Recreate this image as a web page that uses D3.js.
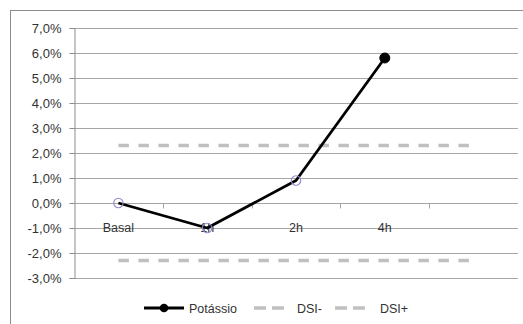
<!DOCTYPE html>
<html>
<head>
<meta charset="utf-8">
<script src="https://cdn.jsdelivr.net/npm/d3@7"></script>
<style>
  html, body { margin: 0; padding: 0; background: #fff; }
  svg { display: block; }
  text { font-family: "Liberation Sans", Arial, sans-serif; fill: #333; }
</style>
</head>
<body>
<svg id="chart" width="523" height="324"></svg>
<script>
// Time points (the last slot is left blank on the axis)
const categories = ["Basal", "1h", "2h", "4h", ""];
// Potássio variation per time point
const potassio = [0.0, -0.010, 0.009, 0.058];
// Significance band limits
const dsiMinus = [-0.023, -0.023, -0.023, -0.023, -0.023];
const dsiPlus  = [0.023, 0.023, 0.023, 0.023, 0.023];
// Y axis ticks
const yTicks = [-0.03, -0.02, -0.01, 0, 0.01, 0.02, 0.03, 0.04, 0.05, 0.06, 0.07];
// Series names for the legend
const seriesNames = ["Potássio", "DSI-", "DSI+"];
// The point drawn with a solid marker
const solidPoint = "4h";

const svg = d3.select("#chart");
const plot = { left: 74, right: 518, top: 28, bottom: 278 };

const x = d3.scaleBand().domain(categories).range([plot.left, plot.right]).padding(0);
const y = d3.scaleLinear().domain([-0.03, 0.07]).range([plot.bottom, plot.top]);
const cx = c => x(c) + x.bandwidth() / 2;
const fmt = v => d3.format(".1f")(v * 100).replace(".", ",").replace("−", "-") + "%";

// Outer chart frame (runs past the right and bottom edges)
svg.append("rect")
  .attr("x", 10.5).attr("y", 10.5)
  .attr("width", 540).attr("height", 340)
  .attr("fill", "none").attr("stroke", "#8c8c8c").attr("stroke-width", 1);

// Horizontal gridlines
svg.append("g")
  .selectAll("line").data(yTicks).join("line")
  .attr("x1", plot.left).attr("x2", plot.right)
  .attr("y1", d => Math.round(y(d)) + 0.5).attr("y2", d => Math.round(y(d)) + 0.5)
  .attr("stroke", "#a6a6a6").attr("stroke-width", 1);

// Y axis with outside ticks
const yAxis = svg.append("g")
  .attr("transform", `translate(${plot.left + 0.5},0)`)
  .call(d3.axisLeft(y).tickValues(yTicks).tickSize(5).tickPadding(8).tickFormat(fmt));
yAxis.select(".domain").attr("stroke", "#8c8c8c");
yAxis.selectAll(".tick line").attr("stroke", "#8c8c8c")
  .attr("transform", function() { return null; });
yAxis.selectAll(".tick").attr("transform", d => `translate(0,${Math.round(y(d)) + 0.5})`);
yAxis.selectAll(".tick text")
  .style("font-family", '"Liberation Sans", Arial, sans-serif')
  .style("font-size", "13px").attr("fill", "#333");

// Category axis along the zero line: boundary ticks and labels
const y0 = Math.round(y(0)) + 0.5;
const bounds = categories.slice(1).map(c => x(c));
svg.append("g").selectAll("line").data(bounds).join("line")
  .attr("x1", d => Math.round(d) + 0.5).attr("x2", d => Math.round(d) + 0.5)
  .attr("y1", y0).attr("y2", y0 + 5)
  .attr("stroke", "#a6a6a6");
svg.append("g").selectAll("text").data(categories).join("text")
  .attr("x", d => cx(d)).attr("y", y0 + 28)
  .attr("text-anchor", "middle")
  .style("font-size", "12.5px")
  .text(d => d);

// DSI reference lines
const dsiLine = d3.line().x((d, i) => cx(categories[i])).y(d => y(d));
[dsiMinus, dsiPlus].forEach(s => {
  svg.append("path").datum(s)
    .attr("d", dsiLine)
    .attr("fill", "none").attr("stroke", "#c0c0c0")
    .attr("stroke-width", 3.3).attr("stroke-dasharray", "10.5,9.5");
});

// Potássio series
const kLine = d3.line().x((d, i) => cx(categories[i])).y(d => y(d));
svg.append("path").datum(potassio)
  .attr("d", kLine)
  .attr("fill", "none").attr("stroke", "#000")
  .attr("stroke-width", 2.8).attr("stroke-linejoin", "round");
svg.append("g").selectAll("circle").data(potassio).join("circle")
  .attr("cx", (d, i) => cx(categories[i])).attr("cy", d => y(d))
  .attr("r", (d, i) => categories[i] === solidPoint ? 5 : 4.7)
  .attr("fill", (d, i) => categories[i] === solidPoint ? "#000" : "none")
  .attr("stroke", (d, i) => categories[i] === solidPoint ? "#000" : "#9484c8")
  .attr("stroke-width", (d, i) => categories[i] === solidPoint ? 1 : 1.1);

// Legend
const ly = 308;
const legend = svg.append("g");
legend.append("line").attr("x1", 144).attr("x2", 184).attr("y1", ly).attr("y2", ly)
  .attr("stroke", "#000").attr("stroke-width", 2.8);
legend.append("circle").attr("cx", 164).attr("cy", ly).attr("r", 4.3).attr("fill", "#000");
legend.append("text").attr("x", 189).attr("y", ly + 4.5).style("font-size", "12.5px").text(seriesNames[0]);
[[254, 297, 1], [335, 380, 2]].forEach(([lx, tx, k]) => {
  legend.append("line").attr("x1", lx).attr("x2", lx + 31).attr("y1", ly).attr("y2", ly)
    .attr("stroke", "#c0c0c0").attr("stroke-width", 3.3).attr("stroke-dasharray", "12,6");
  legend.append("text").attr("x", tx).attr("y", ly + 4.5).style("font-size", "12.5px").text(seriesNames[k]);
});
</script>
</body>
</html>
